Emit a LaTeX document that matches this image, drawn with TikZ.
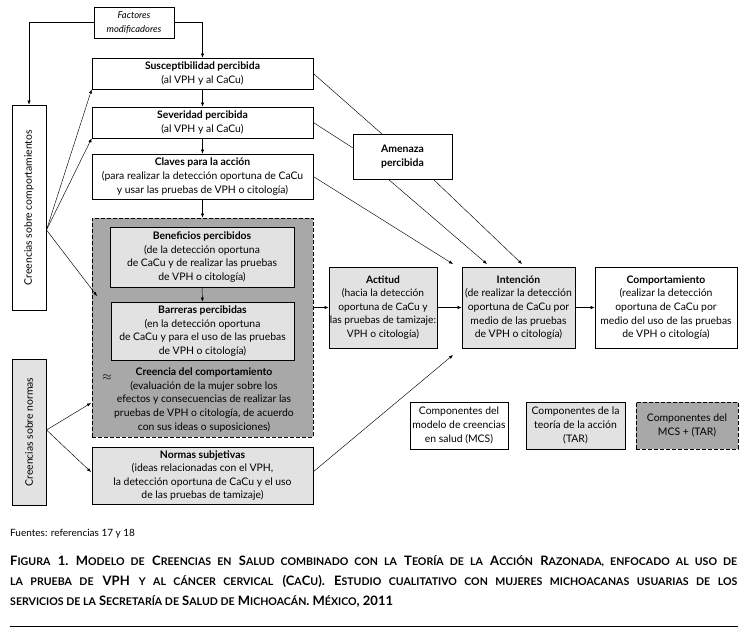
\documentclass[tikz,border=0pt]{standalone}
\usepackage{fontspec}
\setmainfont{Lato}
\usetikzlibrary{arrows.meta,calc}
\definecolor{lgray}{RGB}{226,226,226}
\definecolor{dgray}{RGB}{168,168,168}
\newcommand\smc[1]{{\fontsize{10.6}{10}\selectfont #1}}
\tikzset{
  box/.style={draw, line width=0.7pt, align=center, inner sep=1pt,
    font=\fontsize{10.4}{13.6}\selectfont},
  tarbox/.style={box, fill=lgray},
  mixbox/.style={box, fill=dgray, dash pattern=on 4pt off 2pt},
  arr/.style={line width=0.45pt, -{Latex[length=4pt,width=3.2pt]}},
  ln/.style={line width=0.45pt},
}
\begin{document}
\begin{tikzpicture}[x=1pt,y=-1pt]
\useasboundingbox[fill=white] (0,0) rectangle (747,638);
% boxes
\node[box, minimum width=80pt, minimum height=31pt, font=\itshape\fontsize{9.4}{13.5}\selectfont] (fact) at (134,22.5) {Factores\\modificadores};
\node[box, minimum width=221pt, minimum height=31pt] (susc) at (202.5,73.5) {\textbf{Susceptibilidad percibida}\\(al VPH y al CaCu)};
\node[box, minimum width=221pt, minimum height=31pt] (sev) at (202.5,122.5) {\textbf{Severidad percibida}\\(al VPH y al CaCu)};
\node[box, minimum width=221pt, minimum height=45pt] (claves) at (202.5,176.5) {\textbf{Claves para la acción}\\(para realizar la detección oportuna de CaCu\\y usar las pruebas de VPH o citología)};
\node[mixbox, minimum width=221pt, minimum height=219pt] (dash) at (202.5,327.5) {};
\node[tarbox, minimum width=184pt, minimum height=60pt] (benef) at (202,257) {\textbf{Beneficios percibidos}\\(de la detección oportuna\\de CaCu y de realizar las pruebas\\de VPH o citología)};
\node[tarbox, minimum width=183pt, minimum height=58pt] (barr) at (202.5,331) {\textbf{Barreras percibidas}\\(en la detección oportuna\\de CaCu y para el uso de las pruebas\\de VPH o citología)};
\node[font=\fontsize{10.4}{13.6}\selectfont, align=center, inner sep=0pt] (creen) at (204,400) {\textbf{Creencia del comportamiento}\\(evaluación de la mujer sobre los\\efectos y consecuencias de realizar las\\pruebas de VPH o citología, de acuerdo\\con sus ideas o suposiciones)};
\node[inner sep=0pt, font=\large] (approx) at (107,378) {$\approx$};
\node[tarbox, minimum width=221pt, minimum height=57pt] (normas) at (202.5,475.5) {\textbf{Normas subjetivas}\\(ideas relacionadas con el VPH,\\la detección oportuna de CaCu y el uso\\de las pruebas de tamizaje)};
\node[box, minimum width=205pt, minimum height=34pt, rotate=90] (cbc) at (29,207.5) {Creencias sobre comportamientos};
\node[box, minimum width=146pt, minimum height=34pt, rotate=90, fill=lgray] (cbn) at (29,432) {Creencias sobre normas};
\node[box, minimum width=99pt, minimum height=45pt] (amen) at (402.5,156.5) {\textbf{Amenaza}\\\textbf{percibida}};
\node[tarbox, minimum width=100pt, minimum height=81pt, font=\fontsize{10.2}{13.6}\selectfont] (act) at (383,307.5) {\textbf{Actitud}\\(hacia la detección\\oportuna de CaCu y\\las pruebas de tamizaje:\\VPH o citología)};
\node[tarbox, minimum width=113pt, minimum height=81pt] (int) at (518.5,307.5) {\textbf{Intención}\\(de realizar la detección\\oportuna de CaCu por\\medio de las pruebas\\de VPH o citología)};
\node[box, minimum width=142pt, minimum height=81pt] (comp) at (666,307.5) {\textbf{Comportamiento}\\(realizar la detección\\oportuna de CaCu por\\medio del uso de las pruebas\\de VPH o citología)};
\node[box, minimum width=98pt, minimum height=47pt] (leg1) at (459,425.5) {Componentes del\\modelo de creencias\\en salud (MCS)};
\node[tarbox, minimum width=99pt, minimum height=47pt] (leg2) at (575.5,425.5) {Componentes de la\\teoría de la acción\\(TAR)};
\node[mixbox, minimum width=102pt, minimum height=47pt] (leg3) at (687,425.5) {Componentes del\\MCS + (TAR)};
% coordinates
\coordinate (cbcO) at (46.5,230);
\coordinate (barrT) at (97,296);
\coordinate (cbnO) at (46.5,430);
\coordinate (dashT) at (91,403);
\coordinate (normT) at (91,472);
\coordinate (amenTop) at (382,134);
\coordinate (amenLeft) at (353,148);
\coordinate (intA) at (453,264);
\coordinate (amenB1) at (388,179);
\coordinate (intB) at (487,264);
\coordinate (amenB2) at (433,179);
\coordinate (intC) at (522,264);
\coordinate (intD) at (453,355);
\coordinate (normO) at (313,472);
% connectors
\draw[arr] (fact.west) -| (cbc.east);
\draw[arr] (fact.east) -| (susc.north);
\draw[arr] (susc.south) -- (sev.north);
\draw[arr] (sev.south) -- (claves.north);
\draw[arr] (claves.south) -- (dash.north);
\draw[arr] (benef.south) -- (barr.north);
\draw[arr] (cbcO) -- (susc.south west);
\draw[arr] (cbcO) -- (sev.south west);
\draw[arr] (cbcO) -- (barrT);
\draw[arr] (cbnO) -- (dashT);
\draw[arr] (cbnO) -- (normT);
\draw[ln] (susc.east) -- (amenTop);
\draw[ln] (sev.east) -- (amenLeft);
\draw[arr] (claves.east) -- (intA);
\draw[arr] (amenB1) -- (intB);
\draw[arr] (amenB2) -- (intC);
\draw[arr] (dash.east |- act.west) -- (act.west);
\draw[arr] (act.east) -- (int.west);
\draw[arr] (int.east) -- (comp.west);
\draw[arr] (normO) -- (intD);
% texts below
\node[anchor=base west, inner sep=0pt, font=\fontsize{10}{11}\selectfont] (fuentes) at (10,536) {Fuentes: referencias 17 y 18};
\node[anchor=north west, inner sep=0pt, text width=727pt, align=justify, font=\bfseries\fontsize{13}{20}\selectfont] (cap) at (10,555) {\frenchspacing F\smc{IGURA} 1. M\smc{ODELO DE} C\smc{REENCIAS EN} S\smc{ALUD COMBINADO CON LA} T\smc{EORÍA DE LA} A\smc{CCIÓN} R\smc{AZONADA, ENFOCADO AL USO DE}\linebreak
\smc{LA PRUEBA DE} VPH \smc{Y AL CÁNCER CERVICAL} (C\smc{A}C\smc{U}). E\smc{STUDIO CUALITATIVO CON MUJERES MICHOACANAS USUARIAS DE LOS}\linebreak
\smc{SERVICIOS DE LA} S\smc{ECRETARÍA DE} S\smc{ALUD DE} M\smc{ICHOACÁN}. M\smc{ÉXICO}, 2011};
\draw[line width=0.9pt] (10,626) -- (738,626);
\end{tikzpicture}
\end{document}
